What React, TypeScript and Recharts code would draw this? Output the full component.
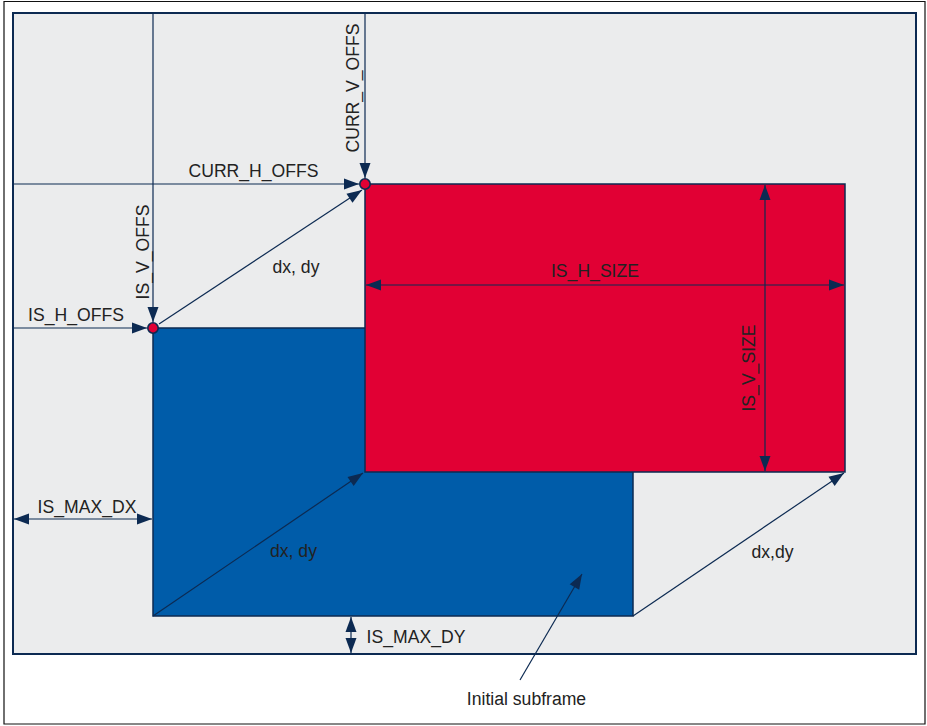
import React from "react";
import { ComposedChart, XAxis, YAxis, ReferenceArea, ReferenceLine, ReferenceDot } from "recharts";

// Diagram coordinate space
const canvasX = [0, 927];
const canvasY = [0, 726];

const outerBorderX = [4, 925];
const outerBorderY = [1.5, 724];

const frameX = [13, 916];
const frameY = [13, 654];

const initialSubframeX = [153, 633];
const initialSubframeY = [328, 616];

const currentSubframeX = [365, 845];
const currentSubframeY = [184, 472];

const offsetPoints = [
  { x: 153, y: 328 },
  { x: 365, y: 184 },
];

// arrows: [x1, y1, x2, y2, arrowAtStart, arrowAtEnd]
const arrows: [number, number, number, number, boolean, boolean][] = [
  [153, 14, 153, 322, false, true],
  [365, 14, 365, 178, false, true],
  [14, 184, 359, 184, false, true],
  [14, 328, 147, 328, false, true],
  [159, 324, 362, 190, false, true],
  [153, 616, 363, 473, false, true],
  [633, 616, 844, 473, false, true],
  [366, 285, 844, 285, true, true],
  [765, 185, 765, 471, true, true],
  [14, 519, 152, 519, true, true],
  [351, 617, 351, 653, true, true],
  [520, 680, 582, 574, false, true],
];

// labels: [text, x, y, rotated]
const labels: [string, number, number, boolean][] = [
  ["CURR_H_OFFS", 253.5, 176.5, false],
  ["IS_H_OFFS", 76, 321, false],
  ["dx, dy", 296, 273, false],
  ["IS_H_SIZE", 595, 276.5, false],
  ["IS_MAX_DX", 87, 513, false],
  ["dx, dy", 293.5, 557, false],
  ["dx,dy", 772.5, 558, false],
  ["IS_MAX_DY", 416, 643, false],
  ["Initial subframe", 526.5, 705, false],
  ["IS_V_OFFS", 149, 252, true],
  ["CURR_V_OFFS", 359, 88, true],
  ["IS_V_SIZE", 755, 368, true],
];

const NAVY = "#0c2a52";
const BLUE = "#005ca9";
const RED = "#e10034";
const BG = "#ebeced";
const TEXT = "#222222";
const FONT = "'Liberation Sans', Arial, Helvetica, sans-serif";

const HEAD_LEN = 15;
const HEAD_W = 11;

function headPoints(tx: number, ty: number, ux: number, uy: number) {
  const bx = tx - ux * HEAD_LEN;
  const by = ty - uy * HEAD_LEN;
  const nx = -uy * (HEAD_W / 2);
  const ny = ux * (HEAD_W / 2);
  return `${tx},${ty} ${bx + nx},${by + ny} ${bx - nx},${by - ny}`;
}

function makeArrowShape(atStart: boolean, atEnd: boolean) {
  return (p: any) => {
    const { x1, y1, x2, y2 } = p;
    const dx = x2 - x1;
    const dy = y2 - y1;
    const len = Math.hypot(dx, dy) || 1;
    const ux = dx / len;
    const uy = dy / len;
    return (
      <g>
        <line x1={x1} y1={y1} x2={x2} y2={y2} stroke={NAVY} strokeWidth={1.2} />
        {atEnd && <polygon points={headPoints(x2, y2, ux, uy)} fill={NAVY} />}
        {atStart && <polygon points={headPoints(x1, y1, -ux, -uy)} fill={NAVY} />}
      </g>
    );
  };
}

function makeLabelShape(text: string, rotated: boolean) {
  return (p: any) => {
    const { cx, cy } = p;
    return (
      <text
        x={cx}
        y={cy}
        textAnchor="middle"
        fill={TEXT}
        fontFamily={FONT}
        fontSize={17.6}
        transform={rotated ? `rotate(-90 ${cx} ${cy})` : undefined}
      >
        {text}
      </text>
    );
  };
}

const pointShape = (p: any) => (
  <circle cx={p.cx} cy={p.cy} r={5.2} fill={RED} stroke={NAVY} strokeWidth={1.6} />
);

export default function App() {
  return (
    <div style={{ position: "absolute", left: 0, top: 0, width: 927, height: 726, background: "#fff" }}>
      <ComposedChart width={927} height={726} margin={{ top: 0, right: 0, bottom: 0, left: 0 }} data={[]}>
        <XAxis type="number" dataKey="x" domain={canvasX} hide allowDataOverflow />
        <YAxis type="number" dataKey="y" domain={canvasY} reversed hide allowDataOverflow />
        <ReferenceArea
          x1={outerBorderX[0]}
          x2={outerBorderX[1]}
          y1={outerBorderY[0]}
          y2={outerBorderY[1]}
          fill="#ffffff"
          fillOpacity={1}
          stroke="#111111"
          strokeWidth={1.2}
          ifOverflow="visible"
        />
        <ReferenceArea
          x1={frameX[0]}
          x2={frameX[1]}
          y1={frameY[0]}
          y2={frameY[1]}
          fill={BG}
          fillOpacity={1}
          stroke={NAVY}
          strokeWidth={2}
          ifOverflow="visible"
        />
        <ReferenceArea
          x1={initialSubframeX[0]}
          x2={initialSubframeX[1]}
          y1={initialSubframeY[0]}
          y2={initialSubframeY[1]}
          fill={BLUE}
          fillOpacity={1}
          stroke={NAVY}
          strokeWidth={1.5}
          ifOverflow="visible"
        />
        <ReferenceArea
          x1={currentSubframeX[0]}
          x2={currentSubframeX[1]}
          y1={currentSubframeY[0]}
          y2={currentSubframeY[1]}
          fill={RED}
          fillOpacity={1}
          stroke={NAVY}
          strokeWidth={1.5}
          ifOverflow="visible"
        />
        {arrows.map(([x1, y1, x2, y2, s, e], i) => (
          <ReferenceLine
            key={"a" + i}
            segment={[
              { x: x1, y: y1 },
              { x: x2, y: y2 },
            ]}
            ifOverflow="visible"
            shape={makeArrowShape(s, e)}
          />
        ))}
        {offsetPoints.map((pt, i) => (
          <ReferenceDot key={"p" + i} x={pt.x} y={pt.y} ifOverflow="visible" shape={pointShape} />
        ))}
        {labels.map(([t, x, y, r], i) => (
          <ReferenceDot key={"l" + i} x={x} y={y} ifOverflow="visible" shape={makeLabelShape(t, r)} />
        ))}
      </ComposedChart>
    </div>
  );
}
